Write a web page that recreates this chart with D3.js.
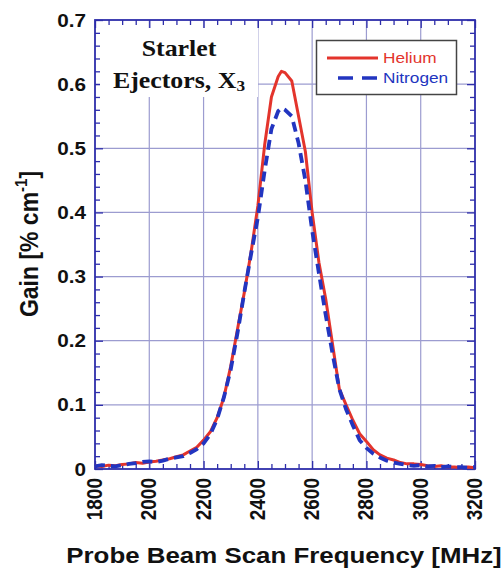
<!DOCTYPE html>
<html>
<head>
<meta charset="utf-8">
<script src="https://cdn.jsdelivr.net/npm/d3@7"></script>
<style>
  html, body { margin: 0; padding: 0; background: #fff; }
  svg { display: block; }
</style>
</head>
<body>
<svg id="chart" width="503" height="569"></svg>
<script>
// Probe beam scan frequency [MHz]
const frequency = [
  1800, 1825, 1850, 1875, 1900, 1925, 1950, 1975, 2000, 2025, 2050, 2075,
  2100, 2125, 2150, 2175, 2200, 2225, 2250, 2275, 2300, 2325, 2350, 2375,
  2400, 2425, 2450, 2475, 2487, 2500, 2525, 2550, 2575, 2600, 2625, 2650,
  2675, 2700, 2725, 2750, 2775, 2800, 2825, 2850, 2875, 2900, 2925, 2950,
  2975, 3000, 3025, 3050, 3075, 3100, 3125, 3150, 3175, 3200
];
// Gain [% cm^-1] with helium as the ejector gas
const heliumGain = [
  0.005, 0.004, 0.006, 0.005, 0.007, 0.008, 0.010, 0.009, 0.011, 0.012, 0.014, 0.016,
  0.019, 0.022, 0.028, 0.034, 0.045, 0.058, 0.080, 0.112, 0.160, 0.218, 0.275, 0.338,
  0.410, 0.505, 0.580, 0.612, 0.620, 0.618, 0.605, 0.550, 0.495, 0.400, 0.322, 0.265,
  0.195, 0.125, 0.100, 0.076, 0.055, 0.043, 0.030, 0.022, 0.017, 0.014, 0.010, 0.008,
  0.008, 0.007, 0.005, 0.004, 0.005, 0.003, 0.003, 0.002, 0.003, 0.002
];
// Gain [% cm^-1] with nitrogen as the ejector gas
const nitrogenGain = [
  0.004, 0.006, 0.005, 0.004, 0.006, 0.008, 0.009, 0.011, 0.012, 0.011, 0.013, 0.016,
  0.018, 0.020, 0.025, 0.031, 0.040, 0.054, 0.078, 0.112, 0.155, 0.212, 0.275, 0.335,
  0.392, 0.465, 0.530, 0.558, 0.563, 0.560, 0.550, 0.508, 0.450, 0.372, 0.305, 0.240,
  0.180, 0.125, 0.093, 0.068, 0.045, 0.033, 0.024, 0.018, 0.013, 0.010, 0.008, 0.006,
  0.005, 0.006, 0.004, 0.005, 0.003, 0.004, 0.003, 0.003, 0.002, 0.003
];
const xMajorTicks = [1800, 2000, 2200, 2400, 2600, 2800, 3000, 3200];
const yMajorTicks = [0, 0.1, 0.2, 0.3, 0.4, 0.5, 0.6, 0.7];
const seriesNames = ["Helium", "Nitrogen"];

const svg = d3.select("#chart");
const plotLeft = 95, plotRight = 475, plotTop = 20, plotBottom = 469;
const kx = 1.15; // horizontal text stretch

const x = d3.scaleLinear().domain([1800, 3200]).range([plotLeft, plotRight]);
const y = d3.scaleLinear().domain([0, 0.7]).range([plotBottom, plotTop]);

const frameColor = "#2e2eaa";
const gridColor = "#9c9cd0";

// grid
const grid = svg.append("g");
grid.selectAll("line.vx").data(xMajorTicks.slice(1, -1)).enter().append("line")
  .attr("x1", d => x(d)).attr("x2", d => x(d)).attr("y1", plotTop).attr("y2", plotBottom)
  .attr("stroke", gridColor).attr("stroke-width", 1.2);
grid.selectAll("line.hy").data(yMajorTicks.slice(1, -1)).enter().append("line")
  .attr("y1", d => y(d)).attr("y2", d => y(d)).attr("x1", plotLeft).attr("x2", plotRight)
  .attr("stroke", gridColor).attr("stroke-width", 1.2);

// inward ticks on all four sides
const xMinor = d3.range(1800, 3201, 50).filter(v => v % 200 !== 0);
const yMinor = d3.range(0, 71, 2).map(v => v / 100).filter(v => Math.round(v * 100) % 10 !== 0);
function tickAxes() {
  const g = svg.append("g");
  const specs = [
    [d3.axisBottom(x).tickValues(xMinor).tickSize(-5), `0,${plotBottom}`],
    [d3.axisTop(x).tickValues(xMinor).tickSize(-5), `0,${plotTop}`],
    [d3.axisLeft(y).tickValues(yMinor).tickSize(-5), `${plotLeft},0`],
    [d3.axisRight(y).tickValues(yMinor).tickSize(-5), `${plotRight},0`],
    [d3.axisBottom(x).tickValues(xMajorTicks).tickSize(-8), `0,${plotBottom}`],
    [d3.axisTop(x).tickValues(xMajorTicks).tickSize(-8), `0,${plotTop}`],
    [d3.axisLeft(y).tickValues(yMajorTicks).tickSize(-8), `${plotLeft},0`],
    [d3.axisRight(y).tickValues(yMajorTicks).tickSize(-8), `${plotRight},0`]
  ];
  specs.forEach(([ax, t]) => {
    const a = g.append("g").attr("transform", `translate(${t})`).call(ax.tickFormat(""));
    a.select(".domain").remove();
    a.selectAll("line").attr("stroke", frameColor).attr("stroke-width", 1.3);
  });
}
tickAxes();

// frame
svg.append("rect").attr("x", plotLeft).attr("y", plotTop)
  .attr("width", plotRight - plotLeft).attr("height", plotBottom - plotTop)
  .attr("fill", "none").attr("stroke", frameColor).attr("stroke-width", 1.8);

// data lines
const lineOf = vals => d3.line().x((d, i) => x(frequency[i])).y(d => y(d))(vals);
svg.append("path").attr("d", lineOf(heliumGain)).attr("fill", "none")
  .attr("stroke", "#e3342c").attr("stroke-width", 3).attr("stroke-linejoin", "round");
svg.append("path").attr("d", lineOf(nitrogenGain)).attr("fill", "none")
  .attr("stroke", "#2235c0").attr("stroke-width", 3.8).attr("stroke-dasharray", "10,6");

// label box
svg.append("rect").attr("x", 100).attr("y", 28).attr("width", 158).attr("height", 69).attr("fill", "#fff");
const lbl = svg.append("g").attr("font-family", "'Liberation Serif', 'Times New Roman', serif")
  .attr("font-weight", "bold").attr("font-size", 22.5).attr("fill", "#111").attr("text-anchor", "middle");
lbl.append("text").attr("transform", `translate(179,56) scale(${kx},1)`).text("Starlet");
const t2 = lbl.append("text").attr("transform", `translate(179,88) scale(${kx},1)`);
t2.append("tspan").text("Ejectors, X");
t2.append("tspan").attr("font-size", 15).attr("dy", 3).text("3");

// legend
const lg = svg.append("g");
lg.append("rect").attr("x", 316.5).attr("y", 40.5).attr("width", 140).attr("height", 54)
  .attr("fill", "#fff").attr("stroke", "#444").attr("stroke-width", 1.5);
lg.append("line").attr("x1", 327).attr("x2", 378).attr("y1", 58).attr("y2", 58)
  .attr("stroke", "#e3342c").attr("stroke-width", 2.8);
lg.append("line").attr("x1", 338).attr("x2", 378).attr("y1", 78).attr("y2", 78)
  .attr("stroke", "#2235c0").attr("stroke-width", 3.4).attr("stroke-dasharray", "15,9");
const legendColors = ["#e3342c", "#2235c0"];
seriesNames.forEach((n, i) => {
  lg.append("text").attr("transform", `translate(383,${63 + i * 20}) scale(${kx},1)`)
    .attr("font-family", "Liberation Sans, Arial, sans-serif").attr("font-size", 15)
    .attr("fill", legendColors[i]).text(n);
});

// tick labels
const font = "Liberation Sans, Arial, sans-serif";
svg.append("g").selectAll("text").data(yMajorTicks).enter().append("text")
  .attr("transform", d => `translate(86,${y(d) + 6.5}) scale(${kx},1)`)
  .attr("text-anchor", "end").attr("font-family", font).attr("font-weight", "bold")
  .attr("font-size", 18).attr("fill", "#111").text(d => d === 0 ? "0" : d3.format(".1f")(d));
svg.append("g").selectAll("text").data(xMajorTicks).enter().append("text")
  .attr("transform", d => `translate(${x(d) + 7},478) scale(${kx},1) rotate(-90)`)
  .attr("text-anchor", "end").attr("font-family", font).attr("font-weight", "bold")
  .attr("font-size", 19).attr("fill", "#111").text(d => d);

// axis titles
svg.append("text").attr("transform", `translate(284,563) scale(${kx},1)`)
  .attr("text-anchor", "middle").attr("font-family", font).attr("font-weight", "bold")
  .attr("font-size", 22.5).attr("fill", "#111").text("Probe Beam Scan Frequency [MHz]");
const yt = svg.append("text").attr("transform", `translate(38,244) scale(${kx},1) rotate(-90)`)
  .attr("text-anchor", "middle").attr("font-family", font).attr("font-weight", "bold")
  .attr("font-size", 23).attr("fill", "#111");
yt.append("tspan").text("Gain [% cm");
yt.append("tspan").attr("font-size", 15).attr("dy", -10).text("-1");
yt.append("tspan").attr("dy", 10).text("]");
</script>
</body>
</html>
